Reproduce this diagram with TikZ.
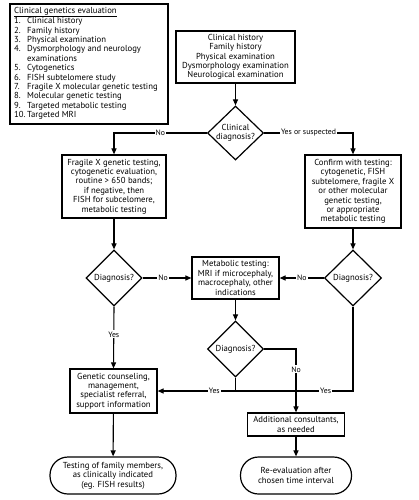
\documentclass[tikz,border=0pt]{standalone}
\usepackage{fontspec}
\setmainfont{PT Sans}
\usetikzlibrary{shapes.geometric,arrows.meta}
\newcommand\myfs{\fontsize{8.7}{9.4}\selectfont}
\newcommand\mylabfs{\fontsize{7.8}{8}\selectfont}
\begin{document}
\begin{tikzpicture}[x=1pt,y=-1pt,
  box/.style={draw,line width=1.2pt,align=center,inner sep=0pt,font=\myfs},
  term/.style={box,rounded corners=18pt},
  dia/.style={draw,line width=1.2pt,diamond,inner sep=0pt,minimum width=56pt,minimum height=56pt},
  dtext/.style={align=center,inner sep=0pt,font=\myfs},
  ln/.style={line width=1.1pt},
  arr/.style={ln,-{Triangle[length=6pt,width=5pt]}},
  lab/.style={fill=white,inner sep=1.2pt,font=\mylabfs}]
\useasboundingbox (0,0) rectangle (418,500);
% legend
\node[draw,line width=1.2pt,minimum width=158pt,minimum height=120pt,inner sep=0pt] (legend) at (89,64) {};
\node[anchor=north west,inner sep=0pt,font=\myfs] (legtext) at (14,6.5) {%
\begin{tabular}{@{}p{13pt}@{}l@{}}
\multicolumn{2}{@{}l@{}}{\underline{Clinical genetics evaluation}}\\
1. & Clinical history\\
2. & Family history\\
3. & Physical examination\\
4. & Dysmorphology and neurology\\
   & examinations\\
5. & Cytogenetics\\
6. & FISH subtelomere study\\
7. & Fragile X molecular genetic testing\\
8. & Molecular genetic testing\\
9. & Targeted metabolic testing\\
10. & Targeted MRI
\end{tabular}};
% nodes
\node[box,minimum width=119pt,minimum height=52pt] (top) at (235.5,57) {Clinical history\\Family history\\Physical examination\\Dysmorphology examination\\Neurological examination};
\node[dia,minimum height=54pt] (cd) at (235.5,133) {};
\node[dtext] at (cd) {Clinical\\diagnosis?};
\node[box,minimum width=104pt,minimum height=63pt] (fx) at (114,186.5) {Fragile X genetic testing,\\cytogenetic evaluation,\\routine > 650 bands;\\if negative, then\\FISH for subcelomere,\\metabolic testing};
\node[box,minimum width=96pt,minimum height=73pt] (cf) at (353,191.5) {Confirm with testing:\\cytogenetic, FISH\\subtelomere, fragile X\\or other molecular\\genetic testing,\\or appropriate\\metabolic testing};
\node[dia] (ld) at (114,278) {};
\node[dtext] at (ld) {Diagnosis?};
\node[dia,minimum width=57pt] (rd) at (353,278) {};
\node[dtext] at (rd) {Diagnosis?};
\node[box,minimum width=87pt,minimum height=42pt] (mb) at (235.5,278) {Metabolic testing:\\MRI if microcephaly,\\macrocephaly, other\\indications};
\node[dia] (md) at (235.5,349) {};
\node[dtext] at (md) {Diagnosis?};
\node[box,minimum width=87pt,minimum height=44pt] (gc) at (113.5,391) {Genetic counseling,\\management,\\specialist referral,\\support information};
\node[box,minimum width=97pt,minimum height=23pt] (ac) at (296,424.5) {Additional consultants,\\as needed};
\node[term,minimum width=126pt,minimum height=37pt] (ft) at (113,475.5) {Testing of family members,\\as clinically indicated\\(eg. FISH results)};
\node[term,minimum width=111pt,minimum height=37pt] (re) at (296,475.5) {Re-evaluation after\\chosen time interval};
% connectors
\draw[arr] (top) -- (cd);
\draw[arr] (cd.west) -| node[lab,pos=0.25]{No} (fx.north);
\draw[arr] (cd.east) -| node[lab,pos=0.25]{Yes or suspected} (cf.north);
\draw[arr] (fx) -- (ld);
\draw[arr] (cf) -- (rd);
\draw[arr] (ld.east) -- node[lab,pos=0.42]{No} (mb.west);
\draw[arr] (rd.west) -- node[lab]{No} (mb.east);
\draw[arr] (mb) -- (md);
\draw[arr] (ld.south) -- node[lab,pos=0.45]{Yes} (gc.north);
\draw[arr] (md.east) -| node[lab,pos=0.66]{No} (ac.north);
\draw[ln] (md.south) -- (md.south |- gc.east);
\draw[arr] (rd.south) |- node[lab,pos=0.57]{Yes} node[lab,pos=0.855]{Yes} (gc.east);
\draw[arr] (gc) -- (ft);
\draw[arr] (ac) -- (re);
\end{tikzpicture}
\end{document}
